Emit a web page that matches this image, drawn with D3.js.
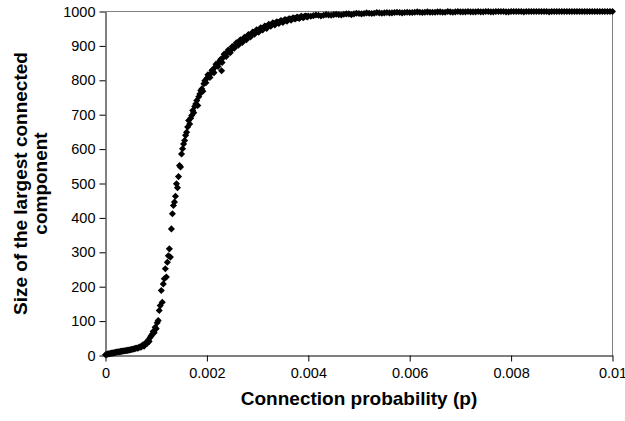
<!DOCTYPE html>
<html>
<head>
<meta charset="utf-8">
<script src="https://cdn.jsdelivr.net/npm/d3@7"></script>
<style>
  body { margin: 0; background: #fff; }
  text { font-family: "Liberation Sans", Arial, sans-serif; fill: #000; }
  .tick text { font-size: 14.5px; }
  .title { font-size: 19px; font-weight: bold; }
</style>
</head>
<body>
<svg id="chart" width="625" height="421"></svg>
<script>
    // tick labels
    var xTickValues = [0, 0.002, 0.004, 0.006, 0.008, 0.01],
        xTickLabels = ['0', '0.002', '0.004', '0.006', '0.008', '0.01'],
        yTickValues = [0, 100, 200, 300, 400, 500, 600, 700, 800, 900, 1000];

    // [connection probability, size of largest component]
    var onsetPoints = [
        [0.00000, 2], [0.00002, 3], [0.00004, 4], [0.00006, 5], [0.00008, 5],
        [0.00010, 6], [0.00012, 7], [0.00014, 7], [0.00016, 8], [0.00018, 8],
        [0.00020, 9], [0.00022, 10], [0.00024, 10], [0.00026, 11], [0.00028, 11],
        [0.00030, 12], [0.00032, 12], [0.00034, 13], [0.00036, 13], [0.00038, 14],
        [0.00040, 14], [0.00042, 15], [0.00044, 15], [0.00046, 16], [0.00048, 16],
        [0.00050, 17], [0.00052, 18], [0.00054, 18], [0.00056, 19], [0.00058, 20],
        [0.00060, 21], [0.00062, 22], [0.00064, 21], [0.00066, 24], [0.00068, 25],
        [0.00070, 24], [0.00072, 28], [0.00074, 31], [0.00076, 27], [0.00078, 34],
        [0.00080, 37], [0.00082, 35], [0.00084, 44], [0.00086, 41], [0.00088, 52],
        [0.00090, 57]
    ];

    var risePoints = [
        [0.00092, 62], [0.00094, 70], [0.00096, 66], [0.00098, 82], [0.00100, 78],
        [0.00102, 95], [0.00104, 102], [0.00106, 131], [0.00108, 145], [0.00110, 189],
        [0.00112, 155], [0.00114, 208], [0.00116, 223], [0.00118, 252], [0.00120, 228],
        [0.00122, 271], [0.00124, 290], [0.00126, 310], [0.00128, 286], [0.00130, 368],
        [0.00132, 412], [0.00134, 436], [0.00136, 446], [0.00138, 463], [0.00140, 499],
        [0.00142, 488], [0.00144, 520], [0.00146, 552], [0.00148, 548], [0.00150, 586],
        [0.00152, 601], [0.00154, 615], [0.00156, 625], [0.00158, 640], [0.00160, 649],
        [0.00162, 664], [0.00164, 683], [0.00166, 673], [0.00168, 690], [0.00170, 698],
        [0.00172, 712], [0.00174, 706], [0.00176, 724], [0.00178, 731], [0.00180, 741],
        [0.00182, 727], [0.00184, 752], [0.00186, 760], [0.00188, 770], [0.00190, 775],
        [0.00192, 768], [0.00194, 790], [0.00196, 799], [0.00198, 793], [0.00200, 806]
    ];

    var kneePoints = [
        [0.00204, 812], [0.00208, 820], [0.00212, 826], [0.00216, 838], [0.00220, 845],
        [0.00224, 851], [0.00228, 862], [0.00229, 828], [0.00232, 866], [0.00236, 875],
        [0.00240, 880], [0.00244, 886], [0.00248, 889], [0.00252, 897], [0.00256, 901],
        [0.00260, 906], [0.00264, 911], [0.00268, 914], [0.00272, 920], [0.00276, 922],
        [0.00280, 928], [0.00284, 931], [0.00288, 934], [0.00292, 939], [0.00296, 941],
        [0.00300, 945], [0.00304, 947], [0.00308, 951], [0.00312, 953], [0.00316, 956],
        [0.00320, 958], [0.00324, 961], [0.00328, 962], [0.00332, 965], [0.00336, 967],
        [0.00340, 968], [0.00344, 970], [0.00348, 972], [0.00352, 973], [0.00356, 975],
        [0.00360, 976], [0.00364, 978], [0.00368, 978], [0.00372, 980], [0.00376, 981],
        [0.00380, 982], [0.00384, 983], [0.00388, 984], [0.00392, 985], [0.00396, 986],
        [0.00400, 987]
    ];

    var kneeScatterPoints = [
        [0.00202, 816], [0.00206, 808], [0.00210, 829], [0.00214, 822], [0.00218, 847],
        [0.00222, 840], [0.00226, 858], [0.00230, 852], [0.00234, 876], [0.00238, 869],
        [0.00242, 888], [0.00246, 880], [0.00250, 898], [0.00254, 893], [0.00258, 909],
        [0.00262, 902], [0.00266, 918], [0.00270, 910], [0.00274, 925], [0.00278, 918],
        [0.00282, 933], [0.00286, 926], [0.00290, 940], [0.00294, 934], [0.00298, 947],
        [0.00302, 940], [0.00306, 953], [0.00310, 946], [0.00314, 958], [0.00318, 951],
        [0.00322, 963], [0.00326, 957], [0.00330, 967], [0.00334, 961], [0.00338, 970],
        [0.00342, 965], [0.00346, 974], [0.00350, 968], [0.00354, 977], [0.00358, 972],
        [0.00362, 979], [0.00366, 975], [0.00370, 982], [0.00374, 978], [0.00378, 984],
        [0.00382, 980], [0.00386, 986], [0.00390, 982], [0.00394, 987], [0.00398, 984]
    ];

    var plateauPoints = [
        [0.0041, 988], [0.0042, 989], [0.0043, 989], [0.0044, 990], [0.0045, 991],
        [0.0046, 991], [0.0047, 992], [0.0048, 993], [0.0049, 993], [0.0050, 994],
        [0.0051, 994], [0.0052, 995], [0.0053, 995], [0.0054, 996], [0.0055, 996],
        [0.0056, 996], [0.0057, 997], [0.0058, 997], [0.0059, 997], [0.0060, 997],
        [0.0061, 998], [0.0062, 998], [0.0063, 998], [0.0064, 998], [0.0065, 998],
        [0.0066, 999], [0.0067, 998], [0.0068, 999], [0.0069, 999], [0.0070, 999],
        [0.0071, 999], [0.0072, 999], [0.0073, 999], [0.0074, 999], [0.0075, 1000],
        [0.0076, 999], [0.0077, 1000], [0.0078, 1000], [0.0079, 999], [0.0080, 1000],
        [0.0081, 1000], [0.0082, 1000], [0.0083, 1000], [0.0084, 1000], [0.0085, 1000],
        [0.0086, 1000], [0.0087, 1000], [0.0088, 1000], [0.0089, 1000], [0.0090, 1000],
        [0.0091, 1000], [0.0092, 1000], [0.0093, 1000], [0.0094, 1000], [0.0095, 1000],
        [0.0096, 1000], [0.0097, 1000], [0.0098, 1000], [0.0099, 1000], [0.0100, 1000]
    ];

    var plateauScatterPoints = [
        [0.00405, 986], [0.00415, 990], [0.00425, 987], [0.00435, 991], [0.00445, 989],
        [0.00455, 992], [0.00465, 990], [0.00475, 993], [0.00485, 991], [0.00495, 995],
        [0.00505, 993], [0.00515, 996], [0.00525, 994], [0.00535, 997], [0.00545, 995],
        [0.00555, 997], [0.00565, 996], [0.00575, 998], [0.00585, 996], [0.00595, 998],
        [0.00605, 997], [0.00615, 999], [0.00625, 997], [0.00635, 999], [0.00645, 998],
        [0.00655, 999], [0.00665, 998], [0.00675, 1000], [0.00685, 998], [0.00695, 1000],
        [0.00705, 999], [0.00715, 1000], [0.00725, 999], [0.00735, 1000], [0.00745, 999],
        [0.00755, 1000], [0.00765, 999], [0.00775, 1000], [0.00785, 1000], [0.00795, 999],
        [0.00805, 1000], [0.00815, 1000], [0.00825, 999], [0.00835, 1000], [0.00845, 1000],
        [0.00855, 1000], [0.00865, 1000], [0.00875, 999], [0.00885, 1000], [0.00895, 1000],
        [0.00905, 1000], [0.00915, 1000], [0.00925, 1000], [0.00935, 1000], [0.00945, 1000],
        [0.00955, 1000], [0.00965, 1000], [0.00975, 1000], [0.00985, 1000], [0.00995, 1000]
    ];

    (function () {
        var allPoints = onsetPoints.concat(risePoints, kneePoints, kneeScatterPoints,
            plateauPoints, plateauScatterPoints);

        var svg = d3.select('#chart');

        var plotLeft = 105.5, plotRight = 612.5, plotTop = 11.5, plotBottom = 355.5;

        var x = d3.scaleLinear().domain([0, 0.01]).range([plotLeft, plotRight]);
        var y = d3.scaleLinear().domain([0, 1000]).range([plotBottom, plotTop]);

        // gray frame on top and right
        svg.append('path')
            .attr('d', 'M' + plotLeft + ',' + plotTop + 'H' + plotRight + 'V' + plotBottom)
            .attr('fill', 'none')
            .attr('stroke', '#808080')
            .attr('stroke-width', 1);

        svg.append('g')
            .attr('transform', 'translate(0,' + plotBottom + ')')
            .call(d3.axisBottom(x)
                .tickValues(xTickValues)
                .tickFormat(function (d, i) { return xTickLabels[i]; })
                .tickSizeInner(6)
                .tickSizeOuter(0)
                .tickPadding(6));

        svg.append('g')
            .attr('transform', 'translate(' + plotLeft + ',0)')
            .call(d3.axisLeft(y)
                .tickValues(yTickValues)
                .tickFormat(d3.format('d'))
                .tickSizeInner(6)
                .tickSizeOuter(0)
                .tickPadding(4));

        svg.selectAll('.domain, .tick line').attr('stroke', '#000');
        svg.selectAll('g').attr('font-family', null).attr('font-size', null);

        // diamond markers
        var diamond = d3.symbol().type(d3.symbolSquare).size(25);
        svg.append('g')
            .selectAll('path.point')
            .data(allPoints)
            .enter()
            .append('path')
            .classed('point', true)
            .attr('d', diamond)
            .attr('transform', function (d) {
                return 'translate(' + x(d[0]) + ',' + y(d[1]) + ') rotate(45)';
            })
            .attr('fill', '#000');

        svg.append('text')
            .classed('title', true)
            .attr('x', (plotLeft + plotRight) / 2)
            .attr('y', 405)
            .attr('text-anchor', 'middle')
            .text('Connection probability (p)');

        var yTitle = svg.append('text')
            .classed('title', true)
            .attr('text-anchor', 'middle')
            .attr('transform', 'translate(27,' + (plotTop + plotBottom) / 2 + ') rotate(-90)');
        yTitle.append('tspan').attr('x', 0).attr('y', 0).text('Size of the largest connected');
        yTitle.append('tspan').attr('x', 0).attr('y', 20).text('component');
    })();
</script>
</body>
</html>
